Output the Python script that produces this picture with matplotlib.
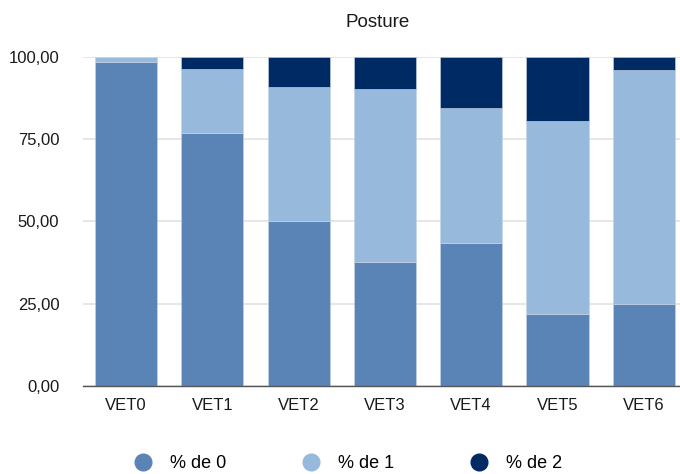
import numpy as np
from matplotlib import pyplot as plt
from matplotlib.lines import Line2D

categories = ['VET0', 'VET1', 'VET2', 'VET3', 'VET4', 'VET5', 'VET6']
pct0 = [98.5, 76.9, 50.2, 37.7, 43.5, 21.9, 24.9]
pct1 = [1.5, 19.5, 40.7, 52.6, 41.0, 58.6, 71.1]
pct2 = [0.0, 3.6, 9.1, 9.7, 15.5, 19.5, 4.0]
series_names = ['% de 0', '% de 1', '% de 2']
colors = ['#5b84b6', '#97b9db', '#002a64']

plt.rcParams['font.family'] = ['Liberation Sans', 'DejaVu Sans']

fig = plt.figure(figsize=(6.8, 4.74), dpi=100)
ax = fig.add_axes([0.122, 0.186, 0.878, 0.694])

x = np.arange(len(categories))
bottom = np.zeros(len(categories))
for vals, col in zip([pct0, pct1, pct2], colors):
    ax.bar(x, vals, width=0.72, bottom=bottom, color=col, edgecolor='#c8d4e6', linewidth=0.4, zorder=3)
    bottom += np.array(vals)

ax.set_ylim(0, 100)
ax.set_xlim(-0.5, 6.42)
ax.set_yticks([0, 25, 50, 75, 100])
ax.set_yticklabels(['0,00', '25,00', '50,00', '75,00', '100,00'])
ax.set_xticks(x)
ax.set_xticklabels(categories)
ax.tick_params(axis='both', length=0, labelsize=12, colors='#1a1a1a')
ax.tick_params(axis='x', pad=9)
ax.tick_params(axis='y', pad=17)
ax.grid(axis='y', color='#e2e2e2', linewidth=1.2, zorder=0)
for s in ['top', 'right', 'left']:
    ax.spines[s].set_visible(False)
ax.spines['bottom'].set_color('#555555')
ax.spines['bottom'].set_linewidth(1.0)
ax.spines['bottom'].set_zorder(4)

fig.text(0.556, 0.952, 'Posture', ha='center', va='center', fontsize=13.5, color='#1a1a1a')

handles = [Line2D([], [], marker='o', linestyle='', markersize=12, color=c) for c in colors]
fig.legend(handles, series_names, loc='center', bbox_to_anchor=(0.505, 0.022), ncol=3,
           frameon=False, fontsize=13, handletextpad=0.5, columnspacing=3.7)

plt.savefig('out.png', dpi=100)
